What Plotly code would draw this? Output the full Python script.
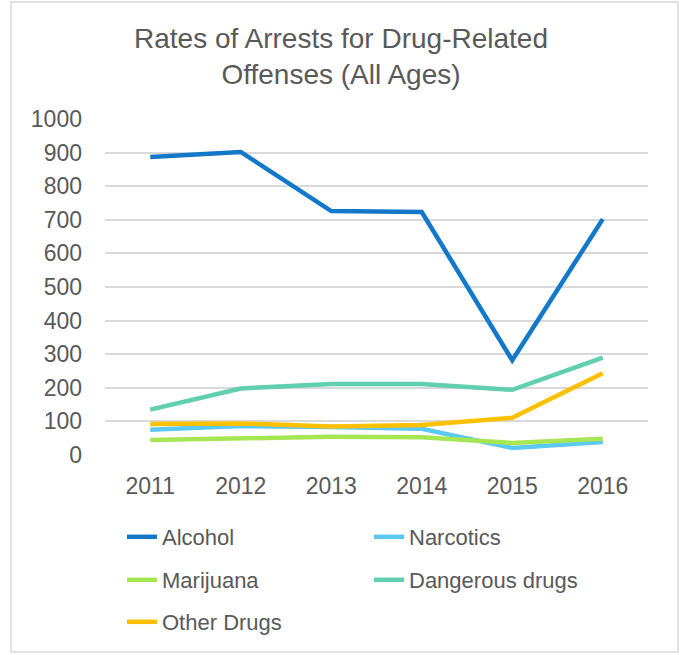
import plotly.graph_objects as go

# Arrest rates per year for each offense category
years = ["2011", "2012", "2013", "2014", "2015", "2016"]
alcohol = [887, 902, 726, 723, 282, 702]
narcotics = [75, 86, 83, 78, 21, 39]
marijuana = [45, 48, 54, 53, 36, 48]
dangerous_drugs = [135, 198, 211, 211, 194, 290]
other_drugs = [92, 94, 85, 89, 111, 243]

series_names = ["Alcohol", "Narcotics", "Marijuana", "Dangerous drugs", "Other Drugs"]
series_values = [alcohol, narcotics, marijuana, dangerous_drugs, other_drugs]
series_colors = ["#1278C9", "#5CC9F2", "#A6E653", "#5FCFB0", "#FFC000"]
# each legend row is its own legend box
series_legend = ["legend", "legend", "legend2", "legend2", "legend3"]

W, H = 682, 655
ML, MR, MT, MB = 105, 34, 119, 200
PW, PH = W - ML - MR, H - MT - MB
TEXT = "#595959"
FONT = "Liberation Sans, Arial, sans-serif"


def px_x(x):
    return (x - ML) / PW


def px_y(y):
    return (H - MB - y) / PH


fig = go.Figure()
for name, vals, color, lg in zip(series_names, series_values, series_colors, series_legend):
    fig.add_trace(go.Scatter(
        x=years, y=vals, name=name, mode="lines",
        line=dict(color=color, width=4.5),
        legend=lg, hoverinfo="x+y+name",
    ))

legend_common = dict(
    orientation="h", entrywidth=202, entrywidthmode="pixels",
    font=dict(size=22, color=TEXT, family=FONT),
    xanchor="left", yanchor="middle", bgcolor="rgba(0,0,0,0)",
    itemclick=False, itemdoubleclick=False,
)

fig.update_layout(
    width=W, height=H,
    margin=dict(l=ML, r=MR, t=MT, b=MB, autoexpand=False),
    paper_bgcolor="white", plot_bgcolor="white",
    font=dict(family=FONT, color=TEXT),
    title=dict(
        text="Rates of Arrests for Drug-Related<br>Offenses (All Ages)",
        x=0.5, xref="container", xanchor="center",
        y=1 - 48 / H, yanchor="middle",
        font=dict(size=28, color=TEXT, family=FONT),
    ),
    xaxis=dict(
        type="category", range=[-0.5, 5.5],
        showgrid=False, zeroline=False, showline=False,
        ticks="", tickfont=dict(size=23, color=TEXT, family=FONT),
        ticklabelstandoff=15,
    ),
    yaxis=dict(
        range=[0, 1000], dtick=100, tick0=0,
        showgrid=True, gridcolor="#D9D9D9", gridwidth=1.5,
        zeroline=False, showline=False, ticks="",
        tickfont=dict(size=23, color=TEXT, family=FONT),
        ticklabelstandoff=22,
    ),
    legend=dict(x=px_x(122), y=px_y(537), **legend_common),
    legend2=dict(x=px_x(122), y=px_y(580), **legend_common),
    legend3=dict(x=px_x(122), y=px_y(622), **legend_common),
    shapes=[dict(
        type="rect", xref="paper", yref="paper",
        x0=px_x(11), x1=px_x(678), y0=px_y(652), y1=px_y(2),
        line=dict(color="#D9D9D9", width=1.5), fillcolor="rgba(0,0,0,0)",
        layer="below",
    )],
)

fig.write_html("out.html")
